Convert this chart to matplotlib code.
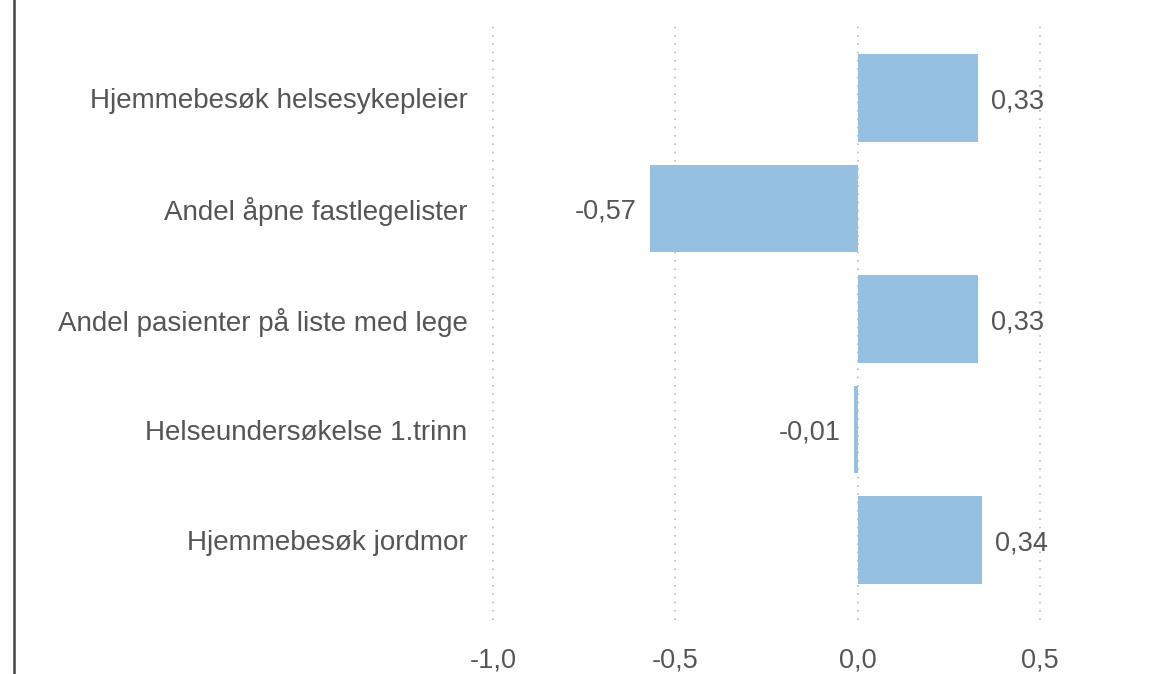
import numpy as np
import matplotlib.pyplot as plt
from matplotlib.lines import Line2D

plt.rcParams['font.family'] = ['Liberation Sans', 'DejaVu Sans']

categories = ["Hjemmebesøk helsesykepleier", "Andel åpne fastlegelister",
              "Andel pasienter på liste med lege", "Helseundersøkelse 1.trinn",
              "Hjemmebesøk jordmor"]
values = [0.33, -0.57, 0.33, -0.01, 0.34]
ticks = [-1.0, -0.5, 0.0, 0.5]

W, H = 1156, 674
fs = 19.5
fig = plt.figure(figsize=(W / 100, H / 100), dpi=100)
ax = fig.add_axes([480 / W, 1 - 620 / H, 620 / W, 600 / H])

y = np.arange(len(categories))
ax.barh(y, values, height=0.79, color='#96c0e1', zorder=2)

ax.set_xlim(-1.0356, 0.664)
ax.set_ylim(4.724, -0.706)
ax.set_xticks(ticks)
ax.set_xticklabels([f"{t:.1f}".replace('.', ',') for t in ticks])
ax.set_yticks(y)
ax.set_yticklabels(categories, va='center_baseline')
ax.tick_params(axis='both', length=0, labelsize=fs, labelcolor='#555555')
ax.tick_params(axis='y', pad=9, labelsize=20)
ax.tick_params(axis='x', pad=20)
ax.grid(axis='x', linestyle=(0, (1, 4)), color='#bbbbbb', linewidth=1.2, zorder=0)
for s in ax.spines.values():
    s.set_visible(False)

off = 13 / 365
for yi, v in zip(y, values):
    lbl = f"{v:.2f}".replace('.', ',')
    if v >= 0:
        ax.text(v + off, yi, lbl, ha='left', va='center_baseline', fontsize=fs, color='#555555')
    else:
        ax.text(v - off, yi, lbl, ha='right', va='center_baseline', fontsize=fs, color='#555555')

fig.add_artist(Line2D([13.5 / W, 13.5 / W], [0, 1], color='#444444', linewidth=1.8,
                      transform=fig.transFigure))

fig.savefig('out.png', dpi=100)
